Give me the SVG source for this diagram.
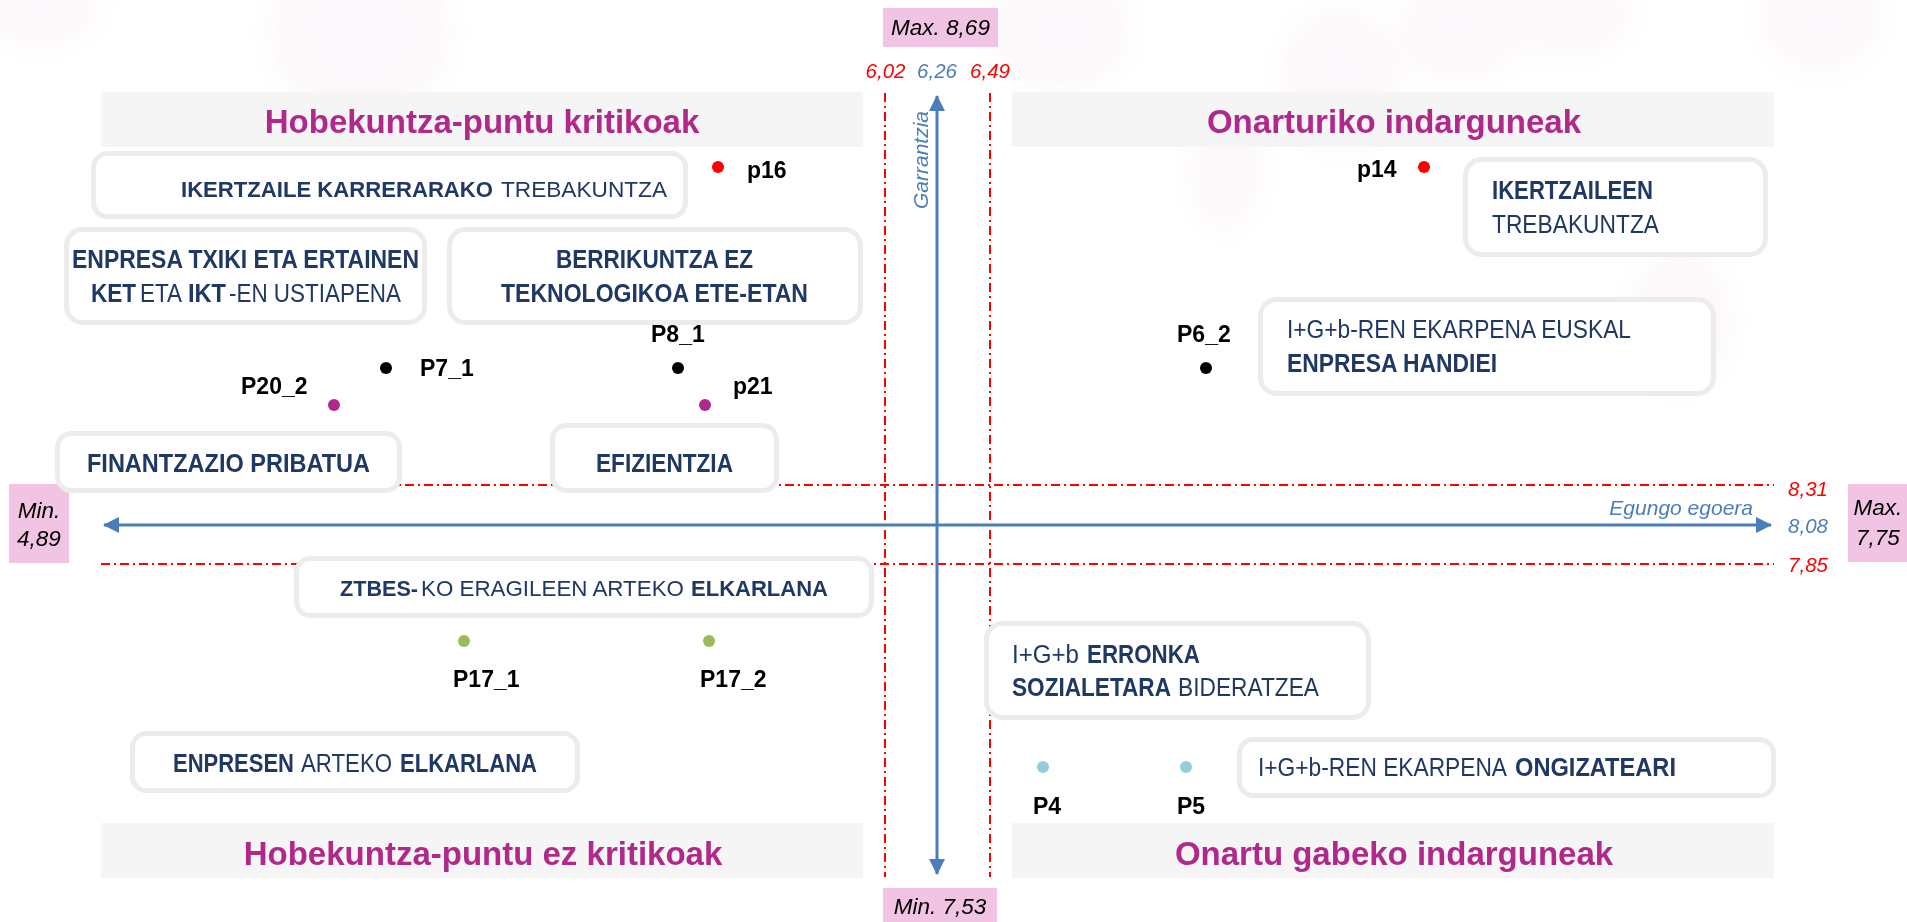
<svg xmlns="http://www.w3.org/2000/svg" width="1907" height="922" viewBox="0 0 1907 922">
<style>
.bg{fill:#f8eef4;opacity:0.45}
.hdr{fill:#f5f5f5}
.htxt{font-family:"Liberation Sans",Arial,sans-serif;font-weight:bold;font-size:33px;fill:#B0288A;text-anchor:middle}
.box{fill:#ffffff;stroke:#ececec;stroke-width:5}
.bt{font-family:"Liberation Sans",Arial,sans-serif;font-size:25px;fill:#1F3864}
.sm{font-size:22.5px}
.xs{font-size:21.5px}
.b{font-weight:bold}
.lbl{font-family:"Liberation Sans",Arial,sans-serif;font-weight:bold;font-size:23px;fill:#000}
.red{stroke:#FF0000;stroke-width:2;stroke-dasharray:9 4 2 4;fill:none}
.ax{stroke:#4A7EBB;stroke-width:3;fill:none}
.num{font-family:"Liberation Sans",Arial,sans-serif;font-style:italic;font-size:20.5px;text-anchor:middle}
.pink{fill:#F0C4E2}
.pt{font-family:"Liberation Sans",Arial,sans-serif;font-style:italic;font-size:22.5px;fill:#000;text-anchor:middle}
</style>
<defs>
<filter id="blur" x="-50%" y="-50%" width="200%" height="200%"><feGaussianBlur stdDeviation="14"/></filter>
<marker id="ah" viewBox="0 0 16 16" refX="15" refY="8" markerWidth="16" markerHeight="16" markerUnits="userSpaceOnUse" orient="auto-start-reverse"><path d="M0,0 L16,8 L0,16 Z" fill="#4A7EBB"/></marker>
</defs>
<rect width="1907" height="922" fill="#ffffff"/>
<g id="background" filter="url(#blur)">
<ellipse class="bg" cx="360" cy="30" rx="90" ry="90"/>
<ellipse class="bg" cx="40" cy="5" rx="60" ry="40"/>
<ellipse class="bg" cx="1060" cy="30" rx="70" ry="60"/>
<ellipse class="bg" cx="1225" cy="170" rx="35" ry="60"/>
<ellipse class="bg" cx="1340" cy="80" rx="60" ry="70"/>
<ellipse class="bg" cx="1460" cy="30" rx="60" ry="50"/>
<ellipse class="bg" cx="1570" cy="15" rx="60" ry="40"/>
<ellipse class="bg" cx="1680" cy="320" rx="50" ry="70"/>
<ellipse class="bg" cx="1820" cy="20" rx="60" ry="50"/>
</g>
<g id="quadrant-headers">
<rect class="hdr" x="101" y="92" width="762" height="55"/>
<text class="htxt" x="482" y="133">Hobekuntza-puntu kritikoak</text>
<rect class="hdr" x="1012" y="92" width="762" height="55"/>
<text class="htxt" x="1394" y="133">Onarturiko indarguneak</text>
<rect class="hdr" x="101" y="823" width="762" height="55"/>
<text class="htxt" x="483" y="865">Hobekuntza-puntu ez kritikoak</text>
<rect class="hdr" x="1012" y="823" width="762" height="55"/>
<text class="htxt" x="1394" y="865">Onartu gabeko indarguneak</text>
</g>
<g id="connectors">
<line class="red" x1="885" y1="93" x2="885" y2="877"/>
<line class="red" x1="990" y1="93" x2="990" y2="877"/>
<line class="red" x1="101" y1="485" x2="1774" y2="485"/>
<line class="red" x1="101" y1="564" x2="1774" y2="564"/>
<line class="ax" x1="104" y1="525" x2="1771" y2="525" marker-start="url(#ah)" marker-end="url(#ah)"/>
<line class="ax" x1="937" y1="96" x2="937" y2="874" marker-start="url(#ah)" marker-end="url(#ah)"/>
</g>
<g id="axis-labels">
<rect class="pink" x="883" y="8" width="115" height="39"/>
<text class="pt" x="940.5" y="35">Max. 8,69</text>
<rect class="pink" x="883" y="888" width="114" height="40"/>
<text class="pt" x="940" y="914">Min. 7,53</text>
<rect class="pink" x="9" y="484" width="60" height="79"/>
<text class="pt" x="39" y="518">Min.</text>
<text class="pt" x="39" y="546">4,89</text>
<rect class="pink" x="1848" y="484" width="62" height="78"/>
<text class="pt" x="1878" y="515">Max.</text>
<text class="pt" x="1878" y="545">7,75</text>
<text class="num" x="885.5" y="78" fill="#FF0000">6,02</text>
<text class="num" x="937" y="78" fill="#4A7EBB">6,26</text>
<text class="num" x="990" y="78" fill="#FF0000">6,49</text>
<text class="num" x="1808" y="496" fill="#FF0000">8,31</text>
<text class="num" x="1808" y="533" fill="#4A7EBB">8,08</text>
<text class="num" x="1808" y="572" fill="#FF0000">7,85</text>
<text class="num" x="1753" y="515" fill="#4A7EBB" style="text-anchor:end;font-size:21px">Egungo egoera</text>
<text class="num" transform="translate(928,160) rotate(-90)" x="0" y="0" fill="#4A7EBB" style="font-size:21px">Garrantzia</text>
</g>
<g id="points">
<circle cx="718" cy="167" r="6" fill="#FF0000"/><text class="lbl" x="747" y="178">p16</text>
<circle cx="1424" cy="167" r="6" fill="#FF0000"/><text class="lbl" x="1357" y="177">p14</text>
<circle cx="678" cy="368" r="6" fill="#000"/><text class="lbl" x="651" y="342">P8_1</text>
<circle cx="386" cy="368" r="6" fill="#000"/><text class="lbl" x="420" y="376">P7_1</text>
<circle cx="334" cy="405" r="6" fill="#B0288A"/><text class="lbl" x="241" y="394">P20_2</text>
<circle cx="705" cy="405" r="6" fill="#B0288A"/><text class="lbl" x="733" y="394">p21</text>
<circle cx="1206" cy="368" r="6" fill="#000"/><text class="lbl" x="1177" y="342">P6_2</text>
<circle cx="464" cy="641" r="6" fill="#9BBB59"/><text class="lbl" x="453" y="687">P17_1</text>
<circle cx="709" cy="641" r="6" fill="#9BBB59"/><text class="lbl" x="700" y="687">P17_2</text>
<circle cx="1043" cy="767" r="6" fill="#92CDDC"/><text class="lbl" x="1033" y="814">P4</text>
<circle cx="1186" cy="767" r="6" fill="#92CDDC"/><text class="lbl" x="1177" y="814">P5</text>
</g>
<g id="node-ikertzaile-karrera">
<rect class="box" x="93.5" y="153.5" width="592" height="63" rx="14"/>
<text class="bt sm b" x="181" y="197" textLength="312" lengthAdjust="spacingAndGlyphs">IKERTZAILE KARRERARAKO</text>
<text class="bt sm" x="501" y="197" textLength="166" lengthAdjust="spacingAndGlyphs">TREBAKUNTZA</text>
</g>
<g id="node-enpresa-txiki">
<rect class="box" x="66.5" y="229.5" width="358" height="93" rx="16"/>
<text class="bt b" x="72" y="268" textLength="347" lengthAdjust="spacingAndGlyphs">ENPRESA TXIKI ETA ERTAINEN</text>
<text class="bt b" x="91" y="302" textLength="45" lengthAdjust="spacingAndGlyphs">KET</text>
<text class="bt" x="140" y="302" textLength="42" lengthAdjust="spacingAndGlyphs">ETA</text>
<text class="bt b" x="188" y="302" textLength="38" lengthAdjust="spacingAndGlyphs">IKT</text>
<text class="bt" x="229" y="302" textLength="172" lengthAdjust="spacingAndGlyphs">-EN USTIAPENA</text>
</g>
<g id="node-berrikuntza">
<rect class="box" x="449.5" y="229.5" width="411" height="93" rx="16"/>
<text class="bt b" x="556" y="268" textLength="197" lengthAdjust="spacingAndGlyphs">BERRIKUNTZA EZ</text>
<text class="bt b" x="501" y="302" textLength="307" lengthAdjust="spacingAndGlyphs">TEKNOLOGIKOA ETE-ETAN</text>
</g>
<g id="node-finantzazio">
<rect class="box" x="57.5" y="433.5" width="342" height="57" rx="14"/>
<text class="bt b" x="87" y="472" textLength="283" lengthAdjust="spacingAndGlyphs">FINANTZAZIO PRIBATUA</text>
</g>
<g id="node-efizientzia">
<rect class="box" x="552.5" y="425.5" width="224" height="65" rx="14"/>
<text class="bt b" x="596" y="472" textLength="137" lengthAdjust="spacingAndGlyphs">EFIZIENTZIA</text>
</g>
<g id="node-ztbes">
<rect class="box" x="296.5" y="558.5" width="575" height="57" rx="14"/>
<text class="bt xs b" x="340" y="596" textLength="78" lengthAdjust="spacingAndGlyphs">ZTBES-</text>
<text class="bt xs" x="421" y="596" textLength="263" lengthAdjust="spacingAndGlyphs">KO ERAGILEEN ARTEKO</text>
<text class="bt xs b" x="691" y="596" textLength="137" lengthAdjust="spacingAndGlyphs">ELKARLANA</text>
</g>
<g id="node-enpresen">
<rect class="box" x="132.5" y="733.5" width="445" height="57" rx="14"/>
<text class="bt b" x="173" y="772" textLength="121" lengthAdjust="spacingAndGlyphs">ENPRESEN</text>
<text class="bt" x="301" y="772" textLength="91" lengthAdjust="spacingAndGlyphs">ARTEKO</text>
<text class="bt b" x="400" y="772" textLength="137" lengthAdjust="spacingAndGlyphs">ELKARLANA</text>
</g>
<g id="node-ikertzaileen">
<rect class="box" x="1465.5" y="159.5" width="300" height="95" rx="16"/>
<text class="bt b" x="1492" y="199" textLength="161" lengthAdjust="spacingAndGlyphs">IKERTZAILEEN</text>
<text class="bt" x="1492" y="233" textLength="167" lengthAdjust="spacingAndGlyphs">TREBAKUNTZA</text>
</g>
<g id="node-euskal-enpresa">
<rect class="box" x="1260.5" y="299.5" width="453" height="94" rx="16"/>
<text class="bt" x="1287" y="338" textLength="344" lengthAdjust="spacingAndGlyphs">I+G+b-REN EKARPENA EUSKAL</text>
<text class="bt b" x="1287" y="372" textLength="210" lengthAdjust="spacingAndGlyphs">ENPRESA HANDIEI</text>
</g>
<g id="node-erronka">
<rect class="box" x="986.5" y="623.5" width="382" height="94" rx="16"/>
<text class="bt" x="1012" y="663" textLength="67" lengthAdjust="spacingAndGlyphs">I+G+b</text>
<text class="bt b" x="1087" y="663" textLength="113" lengthAdjust="spacingAndGlyphs">ERRONKA</text>
<text class="bt b" x="1012" y="696" textLength="159" lengthAdjust="spacingAndGlyphs">SOZIALETARA</text>
<text class="bt" x="1178" y="696" textLength="141" lengthAdjust="spacingAndGlyphs">BIDERATZEA</text>
</g>
<g id="node-ongizatea">
<rect class="box" x="1239.5" y="739.5" width="534" height="56" rx="14"/>
<text class="bt" x="1258" y="776" textLength="249" lengthAdjust="spacingAndGlyphs">I+G+b-REN EKARPENA</text>
<text class="bt b" x="1515" y="776" textLength="161" lengthAdjust="spacingAndGlyphs">ONGIZATEARI</text>
</g>
</svg>
